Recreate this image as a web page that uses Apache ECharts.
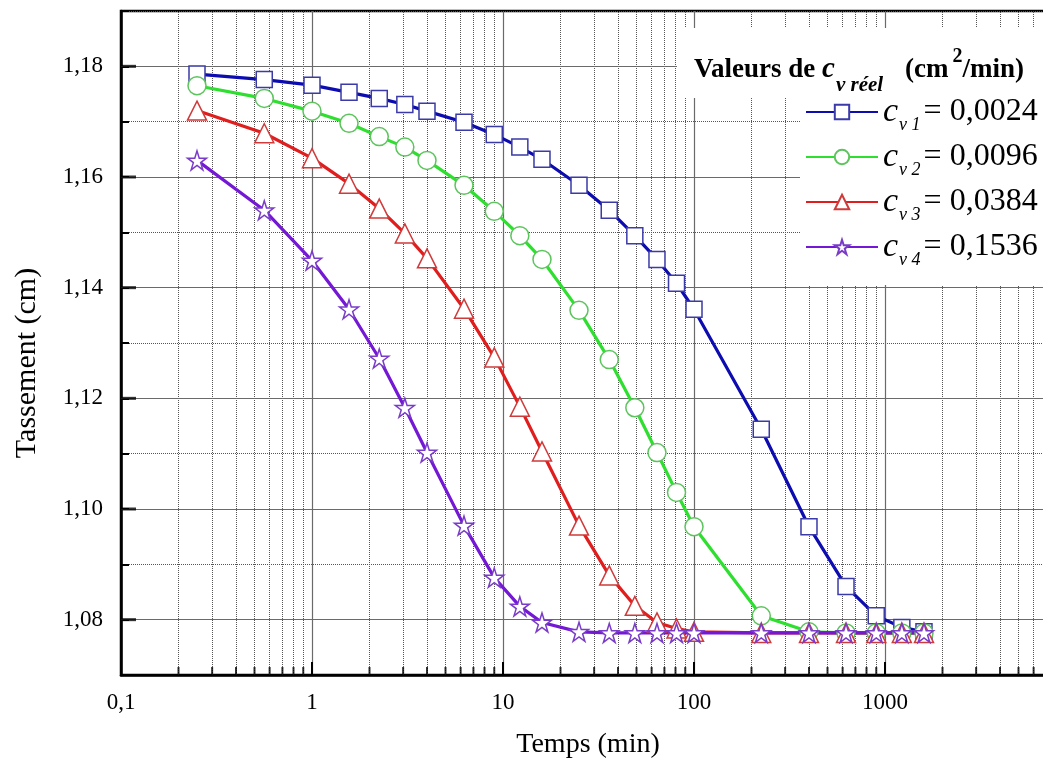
<!DOCTYPE html>
<html><head><meta charset="utf-8">
<script src="https://cdn.jsdelivr.net/npm/echarts@6/dist/echarts.min.js"></script>
<style>html,body{margin:0;padding:0;background:#fff}#c{width:1043px;height:772px}</style>
</head><body><div id="c"></div>
<script>
// ---- data ----
const times = [0.25, 0.5625, 1, 1.5625, 2.25, 3.0625, 4, 6.25, 9, 12.25, 16, 25, 36, 49, 64, 81, 100, 225, 400, 625, 900, 1225, 1600];
const cv1 = [1.1786,1.1776,1.1766,1.1753,1.1742,1.1731,1.1719,1.1699,1.1677,1.1654,1.1632,1.1585,1.1540,1.1494,1.1451,1.1408,1.1361,1.1144,1.0968,1.0860,1.0807,1.0786,1.0778];
const cv2 = [1.1765,1.1742,1.1719,1.1697,1.1673,1.1654,1.1630,1.1585,1.1538,1.1494,1.1451,1.1359,1.1270,1.1183,1.1102,1.1030,1.0968,1.0807,1.0778,1.0776,1.0776,1.0776,1.0776];
const cv3 = [1.1720,1.1679,1.1634,1.1588,1.1543,1.1498,1.1453,1.1362,1.1274,1.1185,1.1104,1.0970,1.0880,1.0825,1.0795,1.0784,1.0778,1.0776,1.0776,1.0776,1.0776,1.0776,1.0776];
const cv4 = [1.1630,1.1540,1.1449,1.1361,1.1272,1.1183,1.1102,1.0970,1.0876,1.0824,1.0795,1.0778,1.0776,1.0776,1.0776,1.0776,1.0776,1.0776,1.0776,1.0776,1.0776,1.0776,1.0776];
const seriesNames = ['cv1','cv2','cv3','cv4'];
const legendSubs = ['v 1','v 2','v 3','v 4'];
const legendValues = ['0,0024','0,0096','0,0384','0,1536'];
const yMajorTicks = [1.08,1.10,1.12,1.14,1.16,1.18];
const xMinorTicks = [0.2,0.3,0.4,0.5,0.6,0.7,0.8,0.9, 2,3,4,5,6,7,8,9, 20,30,40,50,60,70,80,90, 200,300,400,500,600,700,800,900, 2000,3000,4000,5000,6000,7000,8000,9000];

const serif = '"Liberation Serif","Times New Roman",serif';
const starPath = 'path://M10 0 L12.245 6.91 L19.511 6.91 L13.633 11.18 L15.878 18.09 L10 13.82 L4.122 18.09 L6.367 11.18 L0.489 6.91 L7.755 6.91 Z';
const styles = [
  {data: cv1, line:'#0c0cb0', border:'#3a3aa8', symbol:'rect', size:16},
  {data: cv2, line:'#2fdf2f', border:'#5cc45c', symbol:'circle', size:18},
  {data: cv3, line:'#e01e1e', border:'#cf3b3b', symbol:'triangle', size:19},
  {data: cv4, line:'#7418d6', border:'#7a3cc8', symbol:starPath, size:19}
];

const dataSeries = styles.map((s, i) => ({
  name: seriesNames[i], type: 'line', z: 3,
  data: times.map((t, k) => [t, s.data[k]]),
  symbol: s.symbol, symbolSize: s.size, showAllSymbol: true,
  color: s.line,
  lineStyle: {color: s.line, width: 3.2},
  itemStyle: {color: '#fff', borderColor: s.border, borderWidth: 1.5},
  emphasis: {disabled: true}, animation: false
}));

const chart = echarts.init(document.getElementById('c'), null, {renderer: 'canvas'});
chart.setOption({
  animation: false,
  grid: {left: 121, top: 11, width: 955, bottom: 97, show: true, borderColor: '#000', borderWidth: 2.5,
    backgroundColor: 'transparent', containLabel: false, outerBoundsMode: 'none'},
  xAxis: {
    type: 'log', logBase: 10, min: 0.1, max: 10000,
    axisLine: {lineStyle: {color: '#000', width: 2.5}},
    axisTick: {inside: true, length: 13, lineStyle: {color: '#000', width: 2}},
    splitLine: {show: true, lineStyle: {color: '#6a6a6a', width: 1.2}},
    axisLabel: {color: '#000', fontFamily: serif, fontSize: 23, margin: 16,
      formatter: v => String(v).replace('.', ',')}
  },
  yAxis: {
    type: 'value', min: 1.07, max: 1.19, interval: 0.01,
    axisLine: {lineStyle: {color: '#000', width: 2.5}},
    axisTick: {inside: true, length: 8, lineStyle: {color: '#000', width: 2}},
    splitLine: {show: true, lineStyle: {type: 'dotted', color: '#555', width: 1}},
    axisLabel: {color: '#000', fontFamily: serif, fontSize: 23, margin: 18,
      formatter: v => (Math.round(v * 100) % 2 === 0 ? v.toFixed(2).replace('.', ',') : '')}
  },
  legend: {
    data: seriesNames, orient: 'vertical', left: 800, top: 90,
    itemWidth: 72, itemHeight: 18, itemGap: 6, z: 20, selectedMode: false,
    formatter: name => {
      const i = seriesNames.indexOf(name);
      return '{c|c}{s|' + legendSubs[i] + '}{e|= ' + legendValues[i] + '}';
    },
    textStyle: {
      color: '#000', fontFamily: serif,
      rich: {
        c: {fontSize: 34, fontStyle: 'italic', fontFamily: serif, color: '#000'},
        s: {fontSize: 18, fontStyle: 'italic', fontFamily: serif, color: '#000', padding: [26, 3, 0, 1]},
        e: {fontSize: 32, fontFamily: serif, color: '#000'}
      }
    }
  },
  graphic: {elements: [
    {type: 'rect', shape: {x: 677, y: 28, width: 366, height: 70}, style: {fill: '#fff'}, z: 10},
    {type: 'rect', shape: {x: 800, y: 98, width: 243, height: 187}, style: {fill: '#fff'}, z: 10},
    {type: 'text', x: 694, y: 70, z: 21, style: {
      text: '{b|Valeurs de }{c|c}{s|v réel}{g|(cm}{p|2}{b|/min)}',
      verticalAlign: 'middle', align: 'left',
      rich: {
        b: {fontSize: 27, fontWeight: 'bold', fontFamily: serif, fill: '#000'},
        g: {fontSize: 27, fontWeight: 'bold', fontFamily: serif, fill: '#000', padding: [0, 0, 0, 22]},
        c: {fontSize: 29, fontWeight: 'bold', fontStyle: 'italic', fontFamily: serif, fill: '#000'},
        s: {fontSize: 21, fontWeight: 'bold', fontStyle: 'italic', fontFamily: serif, fill: '#000', padding: [32, 0, 0, 1]},
        p: {fontSize: 20, fontWeight: 'bold', fontFamily: serif, fill: '#000', padding: [0, 0, 26, 4]}
      }
    }},
    {type: 'text', x: 588, y: 745, z: 21, style: {text: 'Temps (min)', fontSize: 28, fontFamily: serif, fill: '#000', align: 'center', verticalAlign: 'middle'}},
    {type: 'text', x: 27, y: 363, rotation: Math.PI / 2, z: 21, style: {text: 'Tassement (cm)', fontSize: 30, fontFamily: serif, fill: '#000', align: 'center', verticalAlign: 'middle'}}
  ]},
  series: dataSeries.concat([
    {
      name: 'xticks', type: 'scatter', z: 1, silent: true, clip: false,
      data: xMinorTicks.map(v => [v, 1.07]),
      symbol: 'rect', symbolSize: [2, 8], symbolOffset: [0, -4],
      itemStyle: {color: '#000'},
      markLine: {
        silent: true, symbol: 'none', z: 1, animation: false,
        label: {show: false},
        lineStyle: {type: 'dotted', color: '#555', width: 1},
        data: xMinorTicks.map(v => ({xAxis: v}))
      }
    },
    {
      name: 'yticks', type: 'scatter', z: 1, silent: true, clip: false,
      data: yMajorTicks.map(v => [0.1, v]),
      symbol: 'rect', symbolSize: [15, 3], symbolOffset: [7.5, 0],
      itemStyle: {color: '#000'},
      markLine: {
        silent: true, symbol: 'none', z: 1, animation: false,
        label: {show: false},
        lineStyle: {type: 'solid', color: '#6a6a6a', width: 1.2},
        data: yMajorTicks.map(v => ({yAxis: v}))
      }
    }
  ])
});
</script></body></html>
